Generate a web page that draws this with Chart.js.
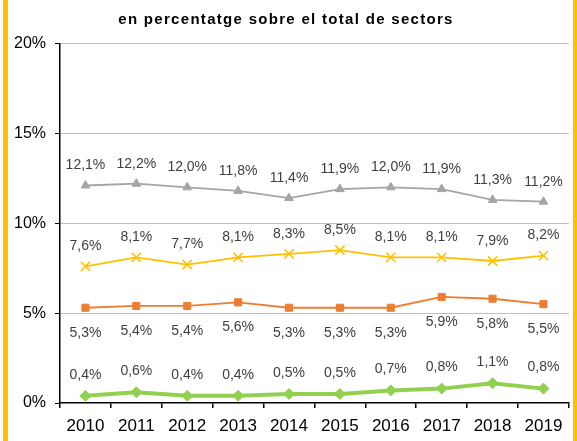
<!DOCTYPE html>
<html>
<head>
<meta charset="utf-8">
<script src="https://cdn.jsdelivr.net/npm/chart.js@4/dist/chart.umd.min.js"></script>
<style>
  body { margin: 0; background: #fff; }
  canvas { display: block; }
</style>
</head>
<body>
<canvas id="grafic" width="577" height="441"></canvas>
<script>
// ------------------------------------DADES------------------------------------
const anys = ['2010', '2011', '2012', '2013', '2014', '2015', '2016', '2017', '2018', '2019'];
const serieGris = [12.1, 12.2, 12.0, 11.8, 11.4, 11.9, 12.0, 11.9, 11.3, 11.2];
const serieGroga = [7.6, 8.1, 7.7, 8.1, 8.3, 8.5, 8.1, 8.1, 7.9, 8.2];
const serieTaronja = [5.3, 5.4, 5.4, 5.6, 5.3, 5.3, 5.3, 5.9, 5.8, 5.5];
const serieVerda = [0.4, 0.6, 0.4, 0.4, 0.5, 0.5, 0.7, 0.8, 1.1, 0.8];
const ticksY = [0, 5, 10, 15, 20];
const titol = 'en percentatge sobre el total de sectors';
// ------------------------------------DADES------------------------------------

const FONT = '"Liberation Sans", Arial, sans-serif';

function percent(v) {
  return v.toFixed(1).replace('.', ',') + '%';
}

// fons, vores grogues i titol (espaiat ample, que el plugin title no fa)
const vores = {
  id: 'vores',
  beforeDraw(chart) {
    const ctx = chart.ctx;
    ctx.save();
    ctx.fillStyle = '#fff';
    ctx.fillRect(0, 0, chart.width, chart.height);
    ctx.fillStyle = '#FFC000';
    ctx.fillRect(3, 0, 5, chart.height);
    ctx.fillRect(573, 0, 4, chart.height);
    ctx.font = 'bold 15px ' + FONT;
    ctx.letterSpacing = '1.3px';
    ctx.fillStyle = '#000';
    ctx.textAlign = 'center';
    ctx.textBaseline = 'middle';
    ctx.fillText(titol, 286, 20);
    ctx.restore();
  }
};

// etiquetes de valor sobre cada punt
const etiquetes = {
  id: 'etiquetes',
  afterDatasetsDraw(chart) {
    const ctx = chart.ctx;
    ctx.save();
    ctx.font = '14px ' + FONT;
    ctx.fillStyle = '#404040';
    ctx.textAlign = 'center';
    ctx.textBaseline = 'middle';
    chart.data.datasets.forEach((ds, i) => {
      chart.getDatasetMeta(i).data.forEach((pt, j) => {
        ctx.fillText(percent(ds.data[j]), pt.x, pt.y + ds.desplas);
      });
    });
    ctx.restore();
  }
};

function serie(dades, color, estil, radi, gruix, desplas) {
  return {
    data: dades,
    borderColor: color,
    backgroundColor: color,
    borderWidth: gruix,
    pointStyle: estil,
    pointRadius: radi,
    pointBorderWidth: estil === 'crossRot' ? 1.6 : 1,
    pointBackgroundColor: color,
    pointBorderColor: color,
    tension: 0,
    desplas: desplas
  };
}

const ctx = document.getElementById('grafic').getContext('2d');
new Chart(ctx, {
  type: 'line',
  data: {
    labels: anys,
    datasets: [
      serie(serieVerda, '#92D050', 'rectRot', 5.5, 4, -21),
      serie(serieTaronja, '#ED7D31', 'rect', 5, 1.8, 25),
      serie(serieGroga, '#FFC000', 'crossRot', 6.5, 1.8, -20),
      serie(serieGris, '#A5A5A5', 'triangle', 5, 1.8, -20)
    ]
  },
  options: {
    responsive: false,
    animation: false,
    layout: { padding: { left: 0, right: 5, top: 43.5, bottom: 0 } },
    plugins: {
      legend: { display: false },
      tooltip: { enabled: false },
      title: { display: false }
    },
    scales: {
      x: {
        offset: true,
        afterFit: (s) => { s.height = 38; },
        border: { color: '#000', width: 1.5 },
        grid: {
          offset: true,
          drawOnChartArea: false,
          color: '#000',
          tickLength: 5,
          lineWidth: 1.5
        },
        ticks: {
          color: '#000',
          font: { family: FONT, size: 17 },
          padding: 8,
          maxRotation: 0
        }
      },
      y: {
        min: 0,
        max: 20,
        afterFit: (s) => { s.width = 60; },
        afterBuildTicks: (s) => { s.ticks = ticksY.map(v => ({ value: v })); },
        border: { color: '#000', width: 1.5 },
        grid: {
          color: (c) => c.tick && c.tick.value === 0 ? 'rgba(0,0,0,0)' : '#BFBFBF',
          tickColor: '#000',
          borderDash: [4, 3],
          tickBorderDash: [],
          tickLength: 5,
          lineWidth: 1
        },
        ticks: {
          color: '#000',
          font: { family: FONT, size: 16 },
          padding: 9,
          callback: (v) => v + '%'
        }
      }
    }
  },
  plugins: [vores, etiquetes]
});
</script>
</body>
</html>
